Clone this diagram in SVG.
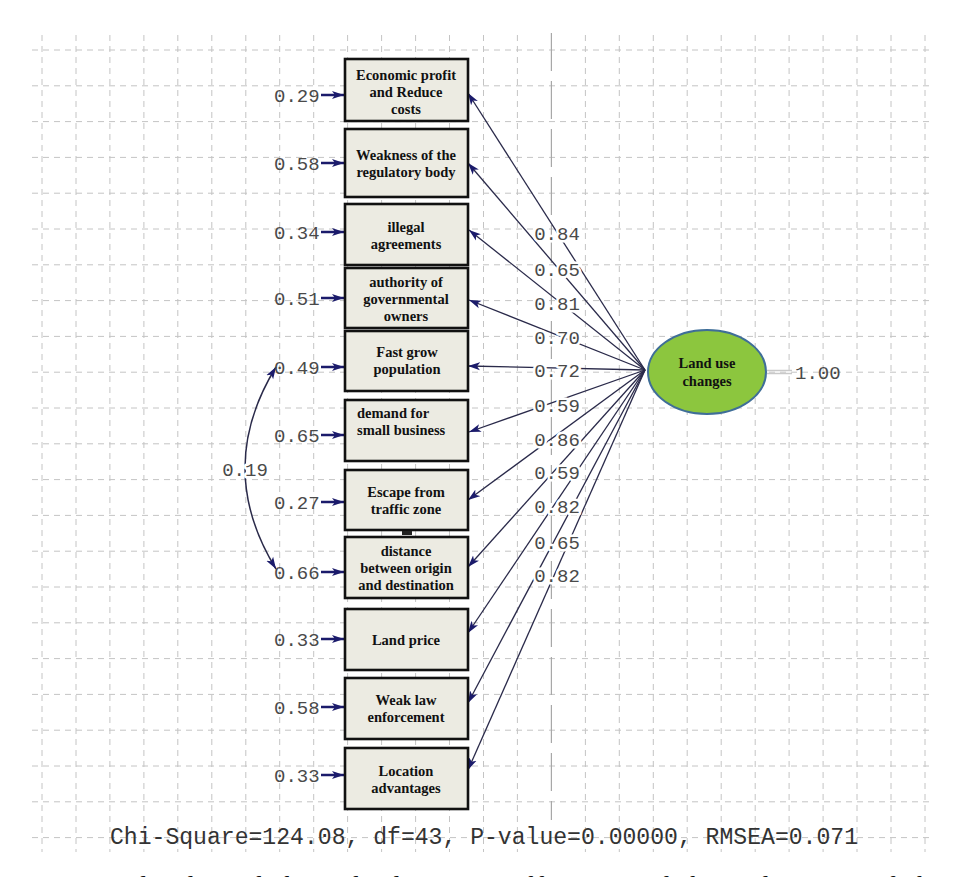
<svg xmlns="http://www.w3.org/2000/svg" width="956" height="877" viewBox="0 0 956 877">
<defs>
<marker id="ah" markerUnits="userSpaceOnUse" markerWidth="13" markerHeight="9" refX="12" refY="4.5" orient="auto-start-reverse">
<path d="M0,0.5 L12,4.5 L0,8.5 L3,4.5 z" fill="#1b1b6b"/>
</marker>
<marker id="eh" markerUnits="userSpaceOnUse" markerWidth="13" markerHeight="9" refX="12" refY="4.5" orient="auto">
<path d="M0,0.5 L12,4.5 L0,8.5 L3,4.5 z" fill="#1b1b6b"/>
</marker>
</defs>
<style>
.grid{fill:none;stroke:#c4c4c4;stroke-width:1;stroke-dasharray:6 5}
.axis{fill:none;stroke:#a8a8a8;stroke-width:1.2;stroke-dasharray:38 10}
.box{fill:#ecebe2;stroke:#111;stroke-width:2.6}
.bt{font-family:"Liberation Serif","Times New Roman",serif;font-weight:bold;font-size:14.5px;fill:#111;text-anchor:middle}
.bl{text-anchor:start}
.num{font-family:"Liberation Mono","Courier New",monospace;font-size:19px;fill:#4a4a4a}
.halo{stroke:#fff;stroke-width:5;paint-order:stroke;stroke-linejoin:round}
.ld{fill:none;stroke:#2a2a4a;stroke-width:1.3;marker-end:url(#ah)}
.er{fill:none;stroke:#1b1b6b;stroke-width:2.5;marker-end:url(#eh)}
</style>
<rect width="956" height="877" fill="#fff"/>
<g id="grid">
<path class="grid" d="M32 50H930M32 85.8H930M32 121.6H930M32 157.4H930M32 193.2H930M32 229H930M32 264.8H930M32 300.6H930M32 336.4H930M32 372.2H930M32 408H930M32 443.8H930M32 479.6H930M32 515.4H930M32 551.2H930M32 587H930M32 622.8H930M32 658.6H930M32 694.4H930M32 730.2H930M32 766H930M32 801.8H930M32 837.6H930"/>
<path class="grid" d="M42 35V852M76 35V852M109.9 35V852M143.9 35V852M177.8 35V852M211.8 35V852M245.8 35V852M279.7 35V852M313.7 35V852M347.6 35V852M381.6 35V852M415.6 35V852M449.5 35V852M483.5 35V852M517.4 35V852M585.4 35V852M619.3 35V852M653.3 35V852M687.2 35V852M721.2 35V852M755.2 35V852M789.1 35V852M823.1 35V852M857 35V852M891 35V852M925 35V852"/>
<path class="axis" d="M551.4 33V820"/>
</g>
<g id="connectors">
<path class="ld" d="M645 370L468 93"/>
<path class="ld" d="M645 370L468 163"/>
<path class="ld" d="M645 370L469 230"/>
<path class="ld" d="M645 370L469 300"/>
<path class="ld" d="M645 370L468 366"/>
<path class="ld" d="M645 370L469 432"/>
<path class="ld" d="M645 370L468 500"/>
<path class="ld" d="M645 370L468 567"/>
<path class="ld" d="M645 370L468 633"/>
<path class="ld" d="M645 370L468 703"/>
<path class="ld" d="M645 370L468 770"/>
<path class="er" d="M321 95H344"/>
<path class="er" d="M321 163H344"/>
<path class="er" d="M321 232H344"/>
<path class="er" d="M321 298H344"/>
<path class="er" d="M321 367H344"/>
<path class="er" d="M321 435H344"/>
<path class="er" d="M321 502H344"/>
<path class="er" d="M321 572H344"/>
<path class="er" d="M321 639H344"/>
<path class="er" d="M321 707H344"/>
<path class="er" d="M321 775H344"/>
<path d="M276 367Q214 468 276 569" fill="none" stroke="#2a2a4a" stroke-width="1.5" marker-start="url(#ah)" marker-end="url(#ah)"/>
<path d="M767 370.5H792M767 373.5H792" stroke="#c9c9c9" stroke-width="1.3"/>
</g>
<g id="loadings" class="num halo" text-anchor="middle">
<text x="557" y="240">0.84</text>
<text x="557" y="276">0.65</text>
<text x="557" y="310">0.81</text>
<text x="557" y="344">0.70</text>
<text x="557" y="377">0.72</text>
<text x="557" y="412">0.59</text>
<text x="557" y="446">0.86</text>
<text x="557" y="479">0.59</text>
<text x="557" y="513">0.82</text>
<text x="557" y="549">0.65</text>
<text x="557" y="582">0.82</text>
<text x="245" y="476">0.19</text>
</g>
<g id="errors" class="num">
<text x="274" y="102">0.29</text>
<text x="274" y="170">0.58</text>
<text x="274" y="239">0.34</text>
<text x="274" y="305">0.51</text>
<text x="274" y="374">0.49</text>
<text x="274" y="442">0.65</text>
<text x="274" y="509">0.27</text>
<text x="274" y="579">0.66</text>
<text x="274" y="646">0.33</text>
<text x="274" y="714">0.58</text>
<text x="274" y="782">0.33</text>
</g>
<g id="n1"><rect class="box" x="345" y="59" width="123" height="62"/><text class="bt" x="406" y="80">Economic profit</text><text class="bt" x="406" y="97">and Reduce</text><text class="bt" x="406" y="114">costs</text></g>
<g id="n2"><rect class="box" x="345" y="129" width="123" height="68"/><text class="bt" x="406" y="160">Weakness of the</text><text class="bt" x="406" y="177">regulatory body</text></g>
<g id="n3"><rect class="box" x="345" y="204" width="123" height="61"/><text class="bt" x="406" y="232">illegal</text><text class="bt" x="406" y="249">agreements</text></g>
<g id="n4"><rect class="box" x="345" y="268" width="123" height="60"/><text class="bt" x="406" y="287">authority of</text><text class="bt" x="406" y="304">governmental</text><text class="bt" x="406" y="321">owners</text></g>
<g id="n5"><rect class="box" x="345" y="331" width="123" height="60"/><text class="bt" x="407" y="357">Fast grow</text><text class="bt" x="407" y="374">population</text></g>
<g id="n6"><rect class="box" x="345" y="400" width="123" height="61"/><text class="bt bl" x="357" y="418">demand for</text><text class="bt bl" x="357" y="435">small business</text></g>
<g id="n7"><rect class="box" x="345" y="470" width="123" height="60"/><text class="bt" x="406" y="497">Escape from</text><text class="bt" x="406" y="514">traffic zone</text><rect x="402" y="531" width="10" height="4" fill="#222"/></g>
<g id="n8"><rect class="box" x="345" y="537" width="123" height="61"/><text class="bt" x="406" y="556">distance</text><text class="bt" x="406" y="573">between origin</text><text class="bt" x="406" y="590">and destination</text></g>
<g id="n9"><rect class="box" x="345" y="609" width="123" height="61"/><text class="bt" x="406" y="645">Land price</text></g>
<g id="n10"><rect class="box" x="345" y="678" width="123" height="61"/><text class="bt" x="406" y="705">Weak law</text><text class="bt" x="406" y="722">enforcement</text></g>
<g id="n11"><rect class="box" x="345" y="748" width="123" height="61"/><text class="bt" x="406" y="776">Location</text><text class="bt" x="406" y="793">advantages</text></g>
<g id="latent">
<ellipse cx="707" cy="372" rx="59" ry="42" fill="#8cc63e" stroke="#3f6e98" stroke-width="2"/>
<text class="bt" x="707" y="368" fill="#10203a">Land use</text>
<text class="bt" x="707" y="386" fill="#10203a">changes</text>
</g>
<text class="num" x="795" y="379">1.00</text>
<text x="110" y="844" font-family="'Liberation Mono','Courier New',monospace" font-size="23" fill="#333" textLength="748" lengthAdjust="spacingAndGlyphs">Chi-Square=124.08, df=43, P-value=0.00000, RMSEA=0.071</text>
<text x="12" y="895" font-family="'Liberation Serif','Times New Roman',serif" font-size="27" fill="#111" textLength="933" lengthAdjust="spacing">7: Factor loads and the calculation coefficients of the indicators of the</text>
</svg>
